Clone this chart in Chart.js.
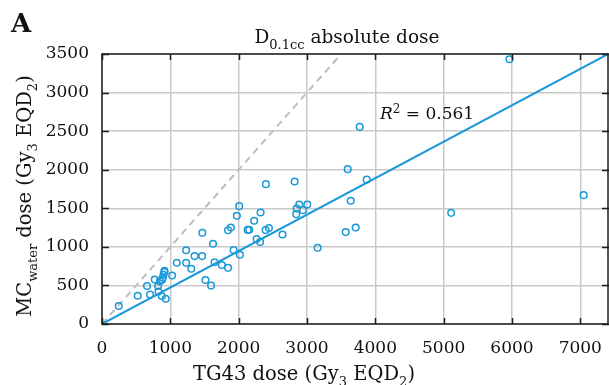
<!DOCTYPE html>
<html lang="en">
<head>
<meta charset="UTF-8">
<title>D0.1cc absolute dose</title>
<script src="https://cdn.jsdelivr.net/npm/chart.js"></script>
<style>
  html, body { margin: 0; padding: 0; background: #fff; }
  canvas { display: block; }
</style>
</head>
<body>
<canvas id="myChart" width="609" height="385"></canvas>
<script>
// TG43 dose vs MC water dose (Gy3 EQD2)
const tg43Dose = [245, 523, 659, 703, 772, 821, 846, 826, 879, 875, 890, 900, 914, 914, 933,
    1026, 1095, 1231, 1231, 1307, 1355, 1465, 1468, 1514, 1596, 1625, 1647, 1754, 1845, 1845,
    1886, 1926, 2018, 1974, 2008, 2132, 2154, 2227, 2263, 2314, 2321, 2394, 2443, 2399, 2642,
    2819, 2843, 2849, 2887, 2941, 3004, 3156, 3567, 3596, 3640, 3713, 3772, 3874, 5110, 5964, 7049];
const mcDose = [233, 366, 492, 383, 577, 492, 552, 422, 574, 363, 600, 638, 673, 690, 328,
    629, 794, 956, 794, 716, 880, 880, 1182, 571, 500, 1040, 800, 765, 728, 1215,
    1251, 958, 897, 1402, 1528, 1220, 1221, 1338, 1101, 1062, 1445, 1217, 1243, 1813, 1160,
    1847, 1424, 1497, 1549, 1476, 1549, 988, 1191, 2007, 1597, 1251, 2555, 1872, 1441, 3431, 1670];

// regression through origin and identity line
const fitX = [0, 7420];
const fitY = [0, 3506];
const identX = [0, 3500];
const identY = [0, 3500];

const xTicks = [0, 1000, 2000, 3000, 4000, 5000, 6000, 7000];
const yTicks = [0, 500, 1000, 1500, 2000, 2500, 3000, 3500];
const xMax = 7420;
const yMax = 3500;

const blue = '#1b98d8';
const serif = '"DejaVu Serif", serif';

function toPoints(xs, ys) {
    return xs.map((x, i) => ({x: x, y: ys[i]}));
}

// draws text pieces with optional subscripts / superscripts, centred on x
function drawRich(ctx, parts, x, y, size) {
    const subSize = Math.round(size * 0.68);
    let w = 0;
    parts.forEach(p => {
        ctx.font = (p.italic ? 'italic ' : '') + (p.sub || p.sup ? subSize : size) + 'px ' + serif;
        p.w = ctx.measureText(p.t).width;
        w += p.w;
    });
    let cx = x - w / 2;
    ctx.textAlign = 'left';
    ctx.textBaseline = 'alphabetic';
    parts.forEach(p => {
        ctx.font = (p.italic ? 'italic ' : '') + (p.sub || p.sup ? subSize : size) + 'px ' + serif;
        let dy = 0;
        if (p.sub) dy = size * 0.3;
        if (p.sup) dy = -size * 0.38;
        ctx.fillText(p.t, cx, y + dy);
        cx += p.w;
    });
}

const decorations = {
    id: 'decorations',
    afterDraw(chart) {
        const ctx = chart.ctx;
        const a = chart.chartArea;
        const xs = chart.scales.x, ys = chart.scales.y;
        ctx.save();
        ctx.strokeStyle = '#1e1e1e';
        ctx.lineWidth = 1.5;
        // inward ticks
        ctx.beginPath();
        xTicks.forEach(v => {
            const px = Math.round(xs.getPixelForValue(v)) + 0.5;
            ctx.moveTo(px, a.top); ctx.lineTo(px, a.top + 6);
            ctx.moveTo(px, a.bottom); ctx.lineTo(px, a.bottom - 6);
        });
        yTicks.forEach(v => {
            const py = Math.round(ys.getPixelForValue(v)) + 0.5;
            ctx.moveTo(a.left, py); ctx.lineTo(a.left + 7, py);
            ctx.moveTo(a.right, py); ctx.lineTo(a.right - 7, py);
        });
        ctx.stroke();
        // frame
        ctx.strokeRect(a.left, a.top, a.right - a.left - 1, a.bottom - a.top);

        ctx.fillStyle = '#111';
        // panel letter
        ctx.font = 'bold 26px ' + serif;
        ctx.textAlign = 'left';
        ctx.fillText('A', 11, 32);

        // title
        drawRich(ctx, [{t: 'D'}, {t: '0.1cc', sub: true}, {t: ' absolute dose'}], 347, 43, 18.5);

        // x axis title
        drawRich(ctx, [{t: 'TG43 dose (Gy'}, {t: '3', sub: true}, {t: ' EQD'}, {t: '2', sub: true}, {t: ')'}],
            304, 380, 19.5);

        // y axis title
        ctx.save();
        ctx.translate(31, 196);
        ctx.rotate(-Math.PI / 2);
        drawRich(ctx, [{t: 'MC'}, {t: 'water', sub: true}, {t: ' dose (Gy'}, {t: '3', sub: true},
            {t: ' EQD'}, {t: '2', sub: true}, {t: ')'}], 0, 0, 19.5);
        ctx.restore();

        // R squared label
        drawRich(ctx, [{t: 'R', italic: true}, {t: '2', sup: true}, {t: ' = 0.561'}], 427, 119, 17);
        ctx.restore();
    }
};

new Chart(document.getElementById('myChart'), {
    type: 'scatter',
    data: {
        datasets: [
            {
                label: 'patients',
                data: toPoints(tg43Dose, mcDose),
                pointStyle: 'circle',
                pointRadius: 3.3,
                pointBorderWidth: 1.5,
                borderColor: blue,
                backgroundColor: 'rgba(0,0,0,0)',
                order: 0
            },
            {
                label: 'fit',
                type: 'line',
                data: toPoints(fitX, fitY),
                borderColor: blue,
                borderWidth: 2,
                pointRadius: 0,
                fill: false,
                order: 1
            },
            {
                label: 'identity',
                type: 'line',
                data: toPoints(identX, identY),
                borderColor: '#bdbdbd',
                borderWidth: 2,
                borderDash: [7, 5],
                pointRadius: 0,
                fill: false,
                order: 2
            }
        ]
    },
    options: {
        responsive: false,
        animation: false,
        devicePixelRatio: 1,
        layout: {autoPadding: false, padding: {top: 54, left: 0, right: 0, bottom: 0}},
        plugins: {
            legend: {display: false},
            tooltip: {enabled: false}
        },
        scales: {
            x: {
                type: 'linear',
                min: 0,
                max: xMax,
                afterBuildTicks: s => { s.ticks = xTicks.map(v => ({value: v})); },
                afterFit: s => { s.height = 61; s.paddingLeft = 0; s.paddingRight = 0; },
                grid: {color: '#c9c9c9', lineWidth: 1.5, tickLength: 0},
                border: {display: false},
                ticks: {color: '#111', padding: 14, font: {family: serif, size: 17}, maxRotation: 0,
                    callback: v => String(v)}
            },
            y: {
                type: 'linear',
                min: 0,
                max: yMax,
                afterBuildTicks: s => { s.ticks = yTicks.map(v => ({value: v})); },
                afterFit: s => { s.width = 102; s.paddingTop = 0; s.paddingBottom = 0; },
                grid: {color: '#c9c9c9', lineWidth: 1.5, tickLength: 0},
                border: {display: false},
                ticks: {color: '#111', padding: 13, font: {family: serif, size: 17},
                    callback: v => String(v)}
            }
        }
    },
    plugins: [decorations]
});
</script>
</body>
</html>
